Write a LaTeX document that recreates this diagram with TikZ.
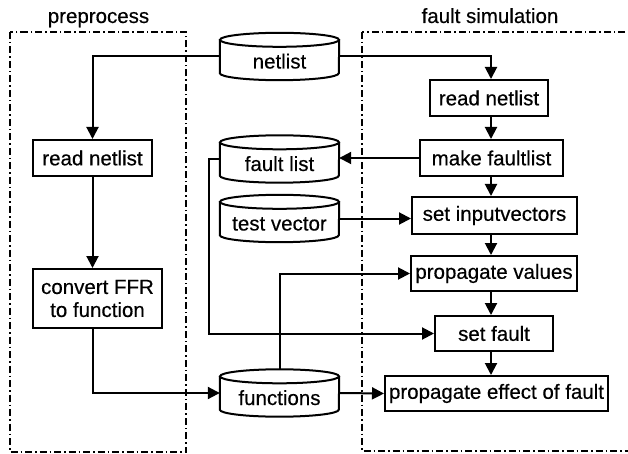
\documentclass[tikz,border=0pt]{standalone}
\usepackage{fontspec}
\setmainfont[FakeBold=0.4]{Liberation Sans}
\usetikzlibrary{arrows.meta,calc}

% outline of a database cylinder around a (borderless) rectangle node
\newcommand{\dbshape}[1]{%
  \draw[line width=2pt]
    ([yshift=-7pt]#1.north west) -- ([yshift=7pt]#1.south west)
    arc[start angle=180,end angle=360,x radius=59.5pt,y radius=7pt]
    -- ([yshift=-7pt]#1.north east);
  \draw[line width=2pt] ([yshift=-7pt]#1.north)
    ellipse[x radius=59.5pt,y radius=7pt];
}

\tikzset{
  proc/.style={draw,rectangle,line width=2pt,inner sep=0pt,
    minimum height=36pt,align=center},
  dbnode/.style={rectangle,inner sep=0pt,minimum width=119pt,
    minimum height=47pt,text height=28pt,text depth=4pt},
  flow/.style={line width=2pt,-{Triangle[length=12pt,width=12pt]}},
  region/.style={line width=1.3pt,dash pattern=on 7pt off 3pt on 1.5pt off 3pt},
  heading/.style={anchor=base,inner sep=0pt}
}

\begin{document}
\begin{tikzpicture}[x=1pt,y=-1pt,font=\fontsize{20.5}{23}\selectfont]
\useasboundingbox (0,0) rectangle (628,454);

% regions
\draw[region] (10,32) rectangle (186,452);
\draw[region] (362,32) rectangle (640,451);
\node[heading] (hpre) at (98.5,23) {preprocess};
\node[heading] (hsim) at (490,23) {fault simulation};

% data stores
\node[dbnode] (nl) at (279.5,56.5) {netlist};
\node[dbnode] (fl) at (279.5,159) {fault list};
\node[dbnode] (tv) at (279.5,218.5) {test vector};
\node[dbnode] (fn) at (279.5,393) {functions};
\dbshape{nl}
\dbshape{fl}
\dbshape{tv}
\dbshape{fn}

% preprocess steps
\node[proc,minimum width=119pt] (rn1) at (92.5,158) {read netlist};
\node[proc,minimum width=129pt,minimum height=59pt] (conv) at (97.5,298.5)
  {convert FFR\\to function};

% fault simulation steps
\coordinate (spine) at (491,0);
\node[proc,minimum width=118pt] (rn2) at (489,98) {read netlist};
\node[proc,minimum width=143pt] (mfl) at (491.5,158) {make faultlist};
\node[proc,minimum width=165pt,minimum height=37pt] (siv) at (494.5,215.5) {set inputvectors};
\node[proc,minimum width=166pt,minimum height=35pt] (pv) at (494,273.5) {propagate values};
\node[proc,minimum width=118pt,minimum height=35pt] (sf) at (494,333.5) {set fault};
\node[proc,minimum width=223pt,minimum height=35pt] (pef) at (496.5,393.5) {propagate effect of fault};

% connectors
\draw[flow] (nl.west) -| (rn1.north);
\draw[flow] (nl.east) -| (rn2.north -| spine);
\draw[flow] (rn1.south) -- (rn1.south |- conv.north);
\draw[flow] (rn1.south |- conv.south) |- (fn.west);

\draw[flow] (rn2.south -| spine) -- (mfl.north -| spine);
\draw[flow] (mfl.south -| spine) -- (siv.north -| spine);
\draw[flow] (siv.south -| spine) -- (pv.north -| spine);
\draw[flow] (pv.south -| spine) -- (sf.north -| spine);
\draw[flow] (sf.south -| spine) -- (pef.north -| spine);

\draw[flow] (mfl.west) -- (mfl.west -| fl.east);
\draw[flow] (tv.east) -- (tv.east -| siv.west);
\draw[flow] (fl.west) -- ++(-11,0) |- (sf.west);
\draw[flow] (fn.north) |- (pv.west);
\draw[flow] (fn.east) -- (pef.west);
\end{tikzpicture}
\end{document}
